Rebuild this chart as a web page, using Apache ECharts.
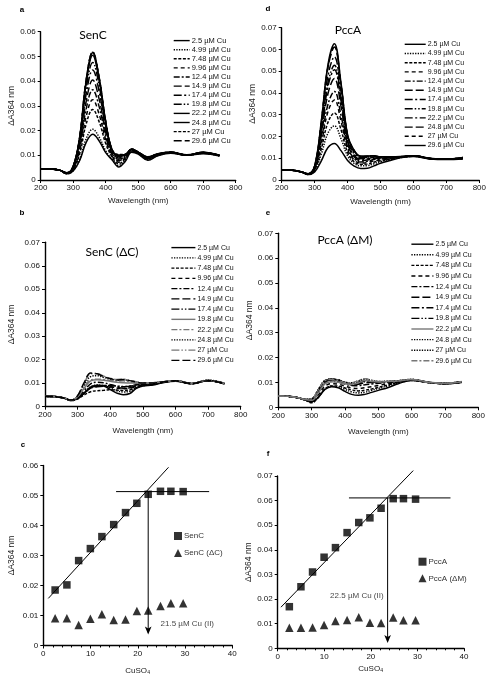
<!DOCTYPE html>
<html><head><meta charset="utf-8">
<script src="https://cdn.jsdelivr.net/npm/echarts@6/dist/echarts.min.js"></script>
<style>html,body{margin:0;padding:0;background:#fff}#c{width:489px;height:681px}</style>
</head><body><div id="c"></div>
<script>
// ---------- DATA ----------
const W = [200, 230, 260, 280, 300, 320, 340, 360, 380, 400, 420, 440, 460, 480, 500, 530, 560, 600, 650, 700, 750];
const cuLabels = ['2.5 µM Cu','4.99 µM Cu','7.48 µM Cu','9.96 µM Cu','12.4 µM Cu','14.9 µM Cu','17.4 µM Cu','19.8 µM Cu','22.2 µM Cu','24.8 µM Cu','27 µM Cu','29.6 µM Cu'];

const senCSpectra = [
 [0.0046,0.0045,0.0039,0.0025,0.0037,0.0079,0.0152,0.0185,0.0158,0.0111,0.0081,0.0053,0.0075,0.0112,0.0105,0.0080,0.0098,0.0108,0.0100,0.0106,0.0097],
 [0.0046,0.0045,0.0039,0.0025,0.0038,0.0084,0.0167,0.0205,0.0173,0.0118,0.0083,0.0059,0.0080,0.0115,0.0107,0.0082,0.0099,0.0109,0.0100,0.0108,0.0098],
 [0.0046,0.0045,0.0039,0.0026,0.0043,0.0107,0.0227,0.0285,0.0235,0.0148,0.0093,0.0066,0.0085,0.0117,0.0108,0.0085,0.0101,0.0110,0.0101,0.0109,0.0098],
 [0.0046,0.0045,0.0039,0.0026,0.0045,0.0119,0.0258,0.0325,0.0265,0.0163,0.0097,0.0072,0.0088,0.0118,0.0108,0.0086,0.0102,0.0110,0.0100,0.0110,0.0099],
 [0.0046,0.0045,0.0039,0.0027,0.0047,0.0130,0.0288,0.0365,0.0296,0.0178,0.0102,0.0078,0.0092,0.0120,0.0110,0.0088,0.0103,0.0111,0.0101,0.0111,0.0099],
 [0.0046,0.0045,0.0039,0.0027,0.0049,0.0142,0.0318,0.0405,0.0326,0.0193,0.0107,0.0084,0.0095,0.0121,0.0110,0.0089,0.0103,0.0111,0.0100,0.0112,0.0100],
 [0.0046,0.0045,0.0039,0.0028,0.0051,0.0153,0.0348,0.0445,0.0357,0.0208,0.0112,0.0089,0.0098,0.0122,0.0111,0.0090,0.0104,0.0111,0.0101,0.0110,0.0099],
 [0.0046,0.0045,0.0039,0.0028,0.0053,0.0162,0.0371,0.0475,0.0380,0.0219,0.0115,0.0095,0.0100,0.0123,0.0112,0.0091,0.0104,0.0112,0.0101,0.0111,0.0100],
 [0.0046,0.0045,0.0039,0.0028,0.0055,0.0170,0.0394,0.0505,0.0403,0.0231,0.0119,0.0101,0.0102,0.0124,0.0112,0.0092,0.0105,0.0112,0.0101,0.0112,0.0100],
 [0.0046,0.0045,0.0039,0.0029,0.0055,0.0173,0.0401,0.0515,0.0410,0.0234,0.0120,0.0098,0.0103,0.0125,0.0113,0.0093,0.0105,0.0112,0.0102,0.0111,0.0099],
 [0.0046,0.0045,0.0039,0.0029,0.0056,0.0175,0.0404,0.0517,0.0412,0.0236,0.0122,0.0103,0.0104,0.0125,0.0113,0.0093,0.0106,0.0112,0.0101,0.0110,0.0098],
 [0.0046,0.0045,0.0039,0.0029,0.0056,0.0176,0.0406,0.0519,0.0414,0.0238,0.0121,0.0095,0.0102,0.0124,0.0113,0.0094,0.0106,0.0113,0.0101,0.0111,0.0099]
];
const pccASpectra = [
 [0.0046,0.0045,0.0037,0.0025,0.0037,0.0087,0.0148,0.0168,0.0135,0.0090,0.0064,0.0053,0.0054,0.0065,0.0077,0.0090,0.0102,0.0108,0.0097,0.0094,0.0097],
 [0.0046,0.0045,0.0037,0.0025,0.0042,0.0118,0.0214,0.0249,0.0190,0.0111,0.0076,0.0065,0.0066,0.0075,0.0084,0.0094,0.0103,0.0109,0.0098,0.0095,0.0098],
 [0.0046,0.0045,0.0037,0.0026,0.0046,0.0142,0.0263,0.0308,0.0231,0.0126,0.0084,0.0072,0.0073,0.0082,0.0088,0.0096,0.0104,0.0109,0.0098,0.0095,0.0099],
 [0.0046,0.0045,0.0037,0.0026,0.0049,0.0165,0.0312,0.0368,0.0271,0.0142,0.0092,0.0078,0.0080,0.0088,0.0092,0.0098,0.0104,0.0110,0.0099,0.0096,0.0099],
 [0.0046,0.0045,0.0037,0.0027,0.0052,0.0181,0.0345,0.0407,0.0298,0.0152,0.0099,0.0083,0.0086,0.0094,0.0096,0.0100,0.0105,0.0110,0.0098,0.0095,0.0100],
 [0.0046,0.0045,0.0037,0.0027,0.0055,0.0204,0.0394,0.0467,0.0339,0.0167,0.0107,0.0088,0.0092,0.0100,0.0099,0.0102,0.0105,0.0111,0.0099,0.0095,0.0101],
 [0.0046,0.0045,0.0037,0.0028,0.0058,0.0220,0.0427,0.0507,0.0366,0.0177,0.0114,0.0093,0.0097,0.0104,0.0101,0.0103,0.0106,0.0111,0.0099,0.0096,0.0101],
 [0.0046,0.0045,0.0037,0.0028,0.0059,0.0228,0.0444,0.0527,0.0379,0.0182,0.0120,0.0098,0.0101,0.0107,0.0103,0.0104,0.0106,0.0111,0.0098,0.0095,0.0102],
 [0.0046,0.0045,0.0037,0.0028,0.0061,0.0243,0.0476,0.0566,0.0407,0.0193,0.0128,0.0103,0.0105,0.0109,0.0104,0.0105,0.0107,0.0112,0.0099,0.0096,0.0102],
 [0.0046,0.0045,0.0037,0.0029,0.0064,0.0261,0.0513,0.0611,0.0437,0.0204,0.0135,0.0107,0.0108,0.0111,0.0105,0.0106,0.0107,0.0112,0.0099,0.0095,0.0103],
 [0.0046,0.0045,0.0037,0.0029,0.0064,0.0263,0.0517,0.0616,0.0440,0.0205,0.0135,0.0108,0.0109,0.0110,0.0106,0.0106,0.0107,0.0112,0.0099,0.0096,0.0103],
 [0.0046,0.0045,0.0037,0.0029,0.0065,0.0267,0.0526,0.0626,0.0447,0.0208,0.0136,0.0110,0.0110,0.0112,0.0107,0.0107,0.0108,0.0112,0.0100,0.0096,0.0104]
];
const senCdCSpectra = [
 [0.0044,0.0043,0.0036,0.0026,0.0036,0.0058,0.0083,0.0091,0.0088,0.0073,0.0058,0.0051,0.0056,0.0078,0.0088,0.0092,0.0102,0.0108,0.0098,0.0110,0.0097],
 [0.0044,0.0043,0.0036,0.0026,0.0037,0.0060,0.0085,0.0092,0.0090,0.0080,0.0068,0.0063,0.0066,0.0080,0.0090,0.0094,0.0103,0.0109,0.0099,0.0111,0.0098],
 [0.0044,0.0043,0.0036,0.0026,0.0033,0.0050,0.0064,0.0068,0.0070,0.0072,0.0071,0.0069,0.0072,0.0082,0.0090,0.0095,0.0104,0.0110,0.0099,0.0112,0.0098],
 [0.0044,0.0043,0.0036,0.0026,0.0036,0.0058,0.0082,0.0089,0.0090,0.0086,0.0080,0.0076,0.0078,0.0086,0.0092,0.0095,0.0104,0.0110,0.0098,0.0111,0.0099],
 [0.0044,0.0043,0.0036,0.0027,0.0040,0.0068,0.0097,0.0104,0.0102,0.0095,0.0088,0.0085,0.0088,0.0093,0.0095,0.0097,0.0105,0.0110,0.0099,0.0112,0.0099],
 [0.0044,0.0043,0.0036,0.0027,0.0035,0.0056,0.0079,0.0085,0.0087,0.0084,0.0081,0.0079,0.0081,0.0088,0.0093,0.0096,0.0104,0.0109,0.0098,0.0111,0.0098],
 [0.0044,0.0043,0.0036,0.0027,0.0036,0.0058,0.0081,0.0087,0.0090,0.0090,0.0088,0.0086,0.0087,0.0091,0.0094,0.0097,0.0105,0.0110,0.0099,0.0112,0.0099],
 [0.0044,0.0043,0.0036,0.0027,0.0042,0.0078,0.0110,0.0115,0.0113,0.0108,0.0104,0.0102,0.0101,0.0100,0.0099,0.0100,0.0105,0.0110,0.0099,0.0111,0.0098],
 [0.0044,0.0043,0.0036,0.0027,0.0043,0.0082,0.0114,0.0117,0.0116,0.0112,0.0109,0.0110,0.0106,0.0103,0.0100,0.0101,0.0106,0.0111,0.0100,0.0112,0.0099],
 [0.0044,0.0043,0.0036,0.0028,0.0045,0.0092,0.0128,0.0132,0.0125,0.0118,0.0113,0.0115,0.0110,0.0105,0.0101,0.0102,0.0106,0.0111,0.0100,0.0113,0.0100],
 [0.0044,0.0043,0.0036,0.0028,0.0047,0.0100,0.0140,0.0141,0.0130,0.0121,0.0116,0.0117,0.0112,0.0106,0.0102,0.0102,0.0106,0.0111,0.0100,0.0112,0.0099],
 [0.0044,0.0043,0.0036,0.0028,0.0047,0.0102,0.0143,0.0140,0.0128,0.0120,0.0114,0.0116,0.0111,0.0105,0.0101,0.0101,0.0105,0.0110,0.0099,0.0111,0.0098]
];
const pccAdMSpectra = [
 [0.0045,0.0044,0.0038,0.0030,0.0022,0.0040,0.0072,0.0083,0.0078,0.0064,0.0052,0.0048,0.0052,0.0060,0.0068,0.0080,0.0095,0.0108,0.0100,0.0095,0.0100],
 [0.0045,0.0044,0.0038,0.0030,0.0020,0.0042,0.0074,0.0085,0.0082,0.0072,0.0062,0.0058,0.0061,0.0068,0.0076,0.0086,0.0098,0.0108,0.0100,0.0095,0.0101],
 [0.0045,0.0044,0.0038,0.0030,0.0018,0.0040,0.0074,0.0086,0.0085,0.0078,0.0070,0.0066,0.0069,0.0074,0.0080,0.0090,0.0100,0.0109,0.0100,0.0096,0.0101],
 [0.0045,0.0044,0.0038,0.0030,0.0025,0.0050,0.0085,0.0095,0.0093,0.0085,0.0078,0.0076,0.0079,0.0083,0.0088,0.0095,0.0102,0.0110,0.0100,0.0095,0.0102],
 [0.0045,0.0044,0.0038,0.0031,0.0030,0.0062,0.0100,0.0110,0.0107,0.0096,0.0088,0.0087,0.0091,0.0094,0.0097,0.0100,0.0104,0.0110,0.0100,0.0096,0.0102],
 [0.0045,0.0044,0.0038,0.0031,0.0032,0.0066,0.0104,0.0112,0.0109,0.0098,0.0092,0.0093,0.0099,0.0100,0.0100,0.0102,0.0105,0.0111,0.0100,0.0096,0.0103],
 [0.0045,0.0044,0.0038,0.0031,0.0034,0.0070,0.0107,0.0114,0.0110,0.0100,0.0096,0.0100,0.0106,0.0103,0.0102,0.0103,0.0106,0.0111,0.0101,0.0095,0.0103],
 [0.0045,0.0044,0.0038,0.0031,0.0030,0.0060,0.0096,0.0104,0.0102,0.0094,0.0090,0.0094,0.0103,0.0102,0.0101,0.0103,0.0106,0.0111,0.0100,0.0096,0.0102],
 [0.0045,0.0044,0.0038,0.0031,0.0028,0.0058,0.0095,0.0103,0.0101,0.0095,0.0093,0.0098,0.0108,0.0104,0.0102,0.0104,0.0106,0.0112,0.0101,0.0096,0.0103],
 [0.0045,0.0044,0.0038,0.0032,0.0034,0.0072,0.0108,0.0113,0.0110,0.0101,0.0098,0.0104,0.0112,0.0106,0.0103,0.0104,0.0107,0.0112,0.0100,0.0097,0.0104],
 [0.0045,0.0044,0.0038,0.0032,0.0033,0.0070,0.0106,0.0112,0.0109,0.0101,0.0099,0.0106,0.0114,0.0108,0.0104,0.0105,0.0107,0.0112,0.0101,0.0096,0.0103],
 [0.0045,0.0044,0.0038,0.0032,0.0034,0.0071,0.0107,0.0112,0.0108,0.0100,0.0099,0.0107,0.0115,0.0109,0.0104,0.0105,0.0107,0.0112,0.0100,0.0097,0.0104]
];

const conc = [2.5, 4.99, 7.48, 9.96, 12.4, 14.9, 17.4, 19.8, 22.2, 24.8, 27, 29.6];
const senC = [0.0185, 0.0202, 0.0283, 0.0323, 0.0363, 0.0403, 0.0443, 0.0474, 0.0504, 0.0514, 0.0514, 0.0513];
const senCdC = [0.0091, 0.0091, 0.0068, 0.0089, 0.0104, 0.0085, 0.0087, 0.0115, 0.0117, 0.0132, 0.0141, 0.0141];
const pccA = [0.0169, 0.0250, 0.0310, 0.0370, 0.0409, 0.0470, 0.0511, 0.0530, 0.0569, 0.0608, 0.0608, 0.0606];
const pccAdM = [0.0083, 0.0083, 0.0085, 0.0095, 0.0111, 0.0115, 0.0126, 0.0104, 0.0103, 0.0125, 0.0114, 0.0114];

const senCFit = [[1.06, 0.0157], [26.5, 0.0594]];
const senCPlateau = [[15.4, 0.0513], [35.1, 0.0513]];
const senCArrow = [[22.2, 0.0513], [22.2, 0.0043]];
const pccAFit = [[0.7, 0.0167], [29.1, 0.0722]];
const pccAPlateau = [[15.3, 0.0611], [37.1, 0.0611]];
const pccAArrow = [[23.6, 0.0611], [23.6, 0.0030]];
const senCNote = {pos: [24.7, 0.0072], text: '21.5 µM Cu (II)'};
const pccANote = {pos: [17.0, 0.0213], text: '22.5 µM Cu (II)'};

// ---------- STYLES ----------
const D = {
  solid: 'solid', dot: [1.3, 1.3], sdash: [3, 1.6], dash: [4, 3], dashdot: [6, 2, 2, 2],
  ldash: [8, 3], ldashdot: [8, 2.5, 2, 2.5], ldashdotdot: [8, 2, 1.5, 2, 1.5, 2]
};
const G = '#777', K = '#000';
const stylesA = [[D.solid,K],[D.dot,K],[D.sdash,K],[D.dash,K],[D.dashdot,K],[D.ldash,K],[D.ldashdot,K],[D.ldashdotdot,K],[D.solid,K],[D.solid,K],[D.sdash,K],[D.ldash,K]];
const stylesD = [[D.solid,K],[D.dot,K],[D.sdash,K],[D.dash,K],[D.dashdot,K],[D.ldash,K],[D.ldashdot,K],[D.ldashdotdot,K],[D.ldashdot,K],[D.ldash,K],[D.dash,K],[D.solid,K]];
const stylesB = [[D.solid,K],[D.dot,K],[D.sdash,K],[D.dash,K],[D.dashdot,K],[D.ldash,K],[D.ldashdotdot,K],[D.solid,G],[D.dashdot,G],[D.dot,K],[D.ldashdotdot,G],[D.ldash,K]];
const stylesE = [[D.solid,K],[D.dot,K],[D.sdash,K],[D.dash,K],[D.dashdot,K],[D.ldash,K],[D.ldashdot,K],[D.ldashdotdot,K],[D.solid,G],[D.dot,K],[D.dot,K],[D.dashdot,G]];

const FONT = 'Liberation Sans, Arial, sans-serif';
const grids = [
  {left: 40.7, top: 31.7, width: 195, height: 148.3},   // a
  {left: 281.7, top: 27.7, width: 199, height: 152.3},  // d
  {left: 45, top: 242.3, width: 195.7, height: 164.4},  // b
  {left: 278.3, top: 233.3, width: 200, height: 174},   // e
  {left: 43.3, top: 465.5, width: 189, height: 180},    // c
  {left: 277.7, top: 476, width: 186.3, height: 172.3}  // f
];
const yMax = [0.06, 0.07, 0.07, 0.07, 0.06, 0.07];
const yNameGap = [25, 23, 29, 21, 27, 22];
const xNameGap = [17, 18, 20, 20, 21, 16];

function yFmt(v){ return v === 0 ? '0' : v.toFixed(2); }
const axisLine = {lineStyle: {color: '#000', width: 1.4}};
const axisTick = {length: 3, lineStyle: {color: '#000', width: 1}};

const xAxes = grids.map((g, i) => {
  const spec = i < 4;
  return {
    gridIndex: i, type: 'value', min: spec ? 200 : 0, max: spec ? 800 : 40, interval: spec ? 100 : 10,
    name: spec ? 'Wavelength (nm)' : 'CuSO₄', nameLocation: 'middle', nameGap: xNameGap[i],
    nameTextStyle: {fontSize: 8, color: '#222', fontFamily: FONT},
    axisLine, axisTick, splitLine: {show: false},
    minorTick: spec ? {show: false} : {show: true, splitNumber: 5, length: 2, lineStyle: {color: '#000'}},
    axisLabel: {fontSize: 8, color: '#111', fontFamily: FONT, margin: 4}
  };
});
const yAxes = grids.map((g, i) => ({
  gridIndex: i, type: 'value', min: 0, max: yMax[i], interval: 0.01,
  name: 'ΔA364 nm', nameLocation: 'middle', nameGap: yNameGap[i], nameRotate: 90,
  nameTextStyle: {fontSize: 8.5, color: '#222', fontFamily: FONT},
  axisLine, axisTick, splitLine: {show: false},
  axisLabel: {fontSize: 8, color: '#111', fontFamily: FONT, margin: 5, formatter: yFmt}
}));

const series = [];
function addSpectra(prefix, gi, arrs, styles) {
  arrs.forEach((arr, k) => {
    series.push({
      type: 'line', name: prefix + '|' + cuLabels[k], xAxisIndex: gi, yAxisIndex: gi,
      data: W.map((w, j) => [w, arr[j]]), symbol: 'none', showSymbol: false, smooth: 0.4,
      silent: true, z: 2 + (k % 3),
      lineStyle: {color: styles[k][1], width: 1.5, type: styles[k][0]}, itemStyle: {color: styles[k][1]}
    });
  });
}
addSpectra('a', 0, senCSpectra, stylesA);
addSpectra('d', 1, pccASpectra, stylesD);
addSpectra('b', 2, senCdCSpectra, stylesB);
addSpectra('e', 3, pccAdMSpectra, stylesE);

function addTitration(gi, nameSq, sq, nameTri, tri, fit, plateau, arrow, note, noteCenter) {
  const lineS = {type: 'line', xAxisIndex: gi, yAxisIndex: gi, symbol: 'none', clip: false, silent: true,
    lineStyle: {color: '#000', width: 1}, z: 3};
  series.push(Object.assign({}, lineS, {name: 'fit' + gi, data: fit}));
  series.push(Object.assign({}, lineS, {name: 'plat' + gi, data: plateau}));
  series.push(Object.assign({}, lineS, {name: 'arrow' + gi, showSymbol: true,
    data: [{value: arrow[0], symbol: 'none'}, {value: arrow[1], symbol: 'arrow', symbolSize: [5, 8], symbolRotate: 180, symbolOffset: [0, 2]}],
    itemStyle: {color: '#000'}}));
  series.push({type: 'scatter', name: nameSq, xAxisIndex: gi, yAxisIndex: gi, symbol: 'rect', symbolSize: 7.5,
    data: conc.map((c, j) => [c, sq[j]]), itemStyle: {color: '#000'}, z: 5, silent: true});
  series.push({type: 'scatter', name: nameTri, xAxisIndex: gi, yAxisIndex: gi, symbol: 'triangle', symbolSize: 8.5,
    data: conc.map((c, j) => [c, tri[j]]), itemStyle: {color: '#000'}, z: 5, silent: true});
  series.push({type: 'scatter', name: 'note' + gi, xAxisIndex: gi, yAxisIndex: gi, symbolSize: 1, silent: true,
    itemStyle: {color: 'rgba(0,0,0,0)'}, data: [note.pos],
    label: {show: true, formatter: note.text, position: noteCenter ? 'inside' : 'right', distance: 0,
      fontSize: 8, color: '#111', fontFamily: FONT}});
}
addTitration(4, 'SenC', senC, 'SenC (ΔC)', senCdC, senCFit, senCPlateau, senCArrow, senCNote, false);
addTitration(5, 'PccA', pccA, 'PccA (ΔM)', pccAdM, pccAFit, pccAPlateau, pccAArrow, pccANote, true);

function specLegend(prefix, left, top, iw, gap, fs) {
  return {
    orient: 'vertical', left, top, itemWidth: iw, itemHeight: 8, itemGap: gap, selectedMode: false,
    padding: 0, data: cuLabels.map(l => prefix + '|' + l),
    formatter: n => n.split('|')[1],
    itemStyle: {opacity: 0}, lineStyle: {width: 1.4},
    textStyle: {fontSize: fs, lineHeight: 8, color: '#111', fontFamily: FONT, padding: [0, 0, 0, -3]}
  };
}
const legends = [
  specLegend('a', 173, 36.6, 16, 1.1, 7.5),
  specLegend('d', 404, 40.3, 21, 1.2, 7),
  specLegend('b', 170.7, 243.6, 24, 2.25, 7),
  specLegend('e', 410.7, 240.2, 22, 2.6, 7),
  {orient: 'vertical', left: 174, top: 532, itemWidth: 8, itemHeight: 8, itemGap: 9, selectedMode: false, padding: 0,
   data: ['SenC', 'SenC (ΔC)'], textStyle: {fontSize: 8, color: '#333', fontFamily: FONT, padding: [0, 0, 0, -3]}},
  {orient: 'vertical', left: 418.5, top: 557.7, itemWidth: 8, itemHeight: 8, itemGap: 8.6, selectedMode: false, padding: 0,
   data: ['PccA', 'PccA (ΔM)'], textStyle: {fontSize: 8, color: '#333', fontFamily: FONT, padding: [0, 0, 0, -3]}}
];

function txt(x, y, text, font) {
  return {type: 'text', x, y, silent: true, style: {text, font, fill: '#000', textAlign: 'center', textVerticalAlign: 'middle'}};
}
const TF = '12px Lato, "Open Sans", sans-serif';
const LF = 'bold 8px "Liberation Sans", Arial, sans-serif';
const graphics = [
  txt(93, 35, 'SenC', TF), txt(348, 30, 'PccA', TF),
  txt(112, 252, 'SenC (ΔC)', TF), txt(345, 240, 'PccA (ΔM)', TF),
  txt(22, 10, 'a', LF), txt(268, 9, 'd', LF), txt(22, 213, 'b', LF),
  txt(268, 213, 'e', LF), txt(23, 445, 'c', LF), txt(268, 454, 'f', LF)
];

const chart = echarts.init(document.getElementById('c'), null, {renderer: 'canvas'});
chart.setOption({
  animation: false, backgroundColor: '#fff',
  grid: grids, xAxis: xAxes, yAxis: yAxes, legend: legends, series, graphic: graphics
});
</script></body></html>
